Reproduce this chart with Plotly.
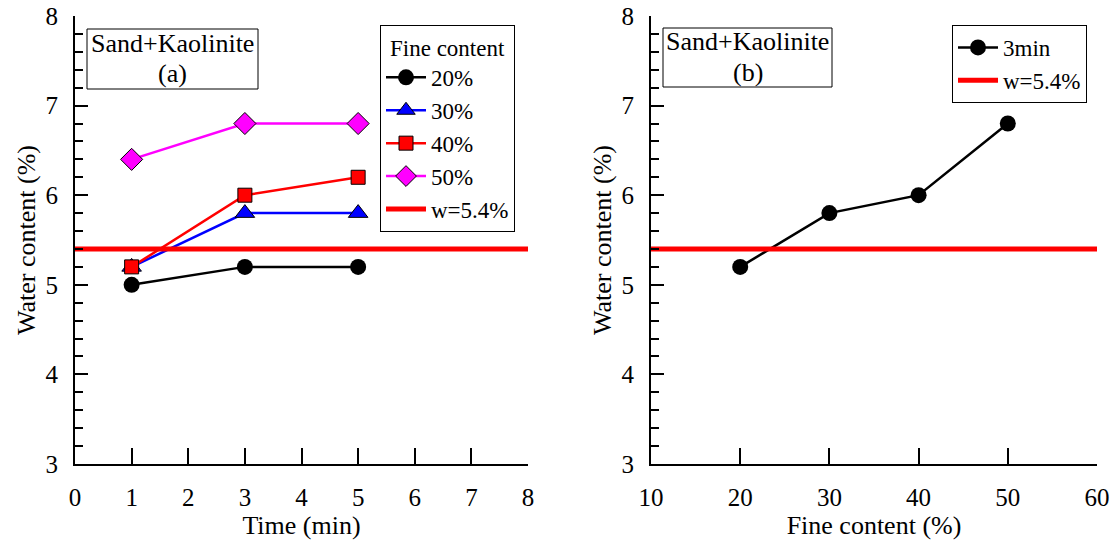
import plotly.graph_objects as go

# ---- data ----
time_min = [1, 3, 5]
fc20 = [5.0, 5.2, 5.2]
fc30 = [5.2, 5.8, 5.8]
fc40 = [5.2, 6.0, 6.2]
fc50 = [6.4, 6.8, 6.8]
series_names = ["20%", "30%", "40%", "50%"]

fine_content = [20, 30, 40, 50]
wc_3min = [5.2, 5.8, 6.0, 6.8]

w_limit = 5.4
x_range_a = [0, 8]
x_range_b = [10, 60]
y_range = [3, 8]

FONT = "Liberation Serif"
W, H = 1115, 544

fig = go.Figure()

styles = [
    dict(color="#000000", symbol="circle", size=16, lc="#000000", lw=0),
    dict(color="#0000ff", symbol="triangle-up", size=17, lc="#0000ff", lw=1),
    dict(color="#ff0000", symbol="square", size=14, lc="#ff0000", lw=1),
    dict(color="#ff00ff", symbol="diamond", size=17, lc="#ff00ff", lw=1),
]
for ys, nm, st in zip([fc20, fc30, fc40, fc50], series_names, styles):
    fig.add_trace(go.Scatter(
        x=time_min, y=ys, mode="lines+markers", name=nm,
        line=dict(color=st["lc"], width=2.5),
        marker=dict(symbol=st["symbol"], size=st["size"], color=st["color"],
                    line=dict(color="#000000", width=st["lw"])),
        xaxis="x", yaxis="y", legend="legend", legendgroup=nm))

fig.add_trace(go.Scatter(x=x_range_a, y=[w_limit, w_limit], mode="lines",
                         line=dict(color="#ff0000", width=5), name="w=5.4%",
                         xaxis="x", yaxis="y", legend="legend", legendgroup="w"))

fig.add_trace(go.Scatter(x=fine_content, y=wc_3min, mode="lines+markers", name="3min",
                         line=dict(color="#000000", width=2.5),
                         marker=dict(symbol="circle", size=16, color="#000000"),
                         xaxis="x2", yaxis="y2", legend="legend2", legendgroup="m3"))
fig.add_trace(go.Scatter(x=x_range_b, y=[w_limit, w_limit], mode="lines",
                         line=dict(color="#ff0000", width=5), name="w=5.4%",
                         xaxis="x2", yaxis="y2", legend="legend2", legendgroup="w2"))

dom_a = [75 / W, 528 / W]
dom_b = [651 / W, 1097 / W]
dom_y = [1 - 464 / H, 1 - 16 / H]

tickfont = dict(family=FONT, size=25, color="black")
titlefont = dict(family=FONT, size=26, color="black")

def xax(domain, rng, dtick, title, anchor):
    return dict(domain=domain, range=rng, dtick=dtick, tick0=rng[0], anchor=anchor,
                ticks="inside", ticklen=16, tickwidth=1.5, tickcolor="black",
                showline=True, linecolor="black", linewidth=2, showgrid=False,
                zeroline=False, tickfont=tickfont, ticklabelstandoff=10, automargin=False,
                title=dict(text=title, font=titlefont, standoff=3))

def yax(anchor, title):
    return dict(domain=dom_y, range=y_range, dtick=1, anchor=anchor,
                ticks="inside", ticklen=13, tickwidth=1.5, tickcolor="black",
                minor=dict(dtick=0.2, ticks="inside", ticklen=8, tickwidth=1.5,
                           tickcolor="black", showgrid=False),
                showline=True, linecolor="black", linewidth=2, showgrid=False,
                zeroline=False, tickfont=tickfont, ticklabelstandoff=10, automargin=False,
                title=dict(text=title, font=titlefont, standoff=2))

def top_ax(over, anchor, rng, dtick):
    return dict(overlaying=over, side="top", anchor=anchor, range=rng, tick0=rng[0],
                dtick=dtick, ticks="inside", ticklen=16, tickwidth=1.5, tickcolor="black",
                showline=True, linecolor="black", linewidth=2, showgrid=False,
                zeroline=False, showticklabels=False, automargin=False)

def right_ax(over, anchor):
    return dict(overlaying=over, side="right", anchor=anchor, range=y_range, tick0=3,
                dtick=0.25, ticks="inside", ticklen=8, tickwidth=1.5, tickcolor="black",
                showline=True, linecolor="black", linewidth=2, showgrid=False,
                zeroline=False, showticklabels=False, automargin=False)

legend_common = dict(bgcolor="white", bordercolor="black", borderwidth=1,
                     font=dict(family=FONT, size=23, color="black"),
                     xanchor="left", yanchor="top", traceorder="grouped",
                     tracegroupgap=0, itemwidth=40)

fig.update_layout(
    width=W, height=H, margin=dict(l=0, r=0, t=0, b=0, autoexpand=False),
    paper_bgcolor="white", plot_bgcolor="white",
    font=dict(family=FONT, color="black"),
    xaxis=xax(dom_a, x_range_a, 1, "Time (min)", "y"),
    yaxis=yax("x", "Water content (%)"),
    xaxis2=xax(dom_b, x_range_b, 10, "Fine content (%)", "y2"),
    yaxis2=yax("x2", "Water content (%)"),
    xaxis3=top_ax("x", "y", x_range_a, 1),
    yaxis3=right_ax("y", "x"),
    xaxis4=top_ax("x2", "y2", x_range_b, 6.25),
    yaxis4=right_ax("y2", "x2"),
    legend=dict(x=380 / W, y=1 - 25 / H,
                title=dict(text="Fine content", side="top center",
                           font=dict(family=FONT, size=23, color="black")),
                **legend_common),
    legend2=dict(x=952 / W, y=1 - 25 / H, **legend_common),
    showlegend=True,
)

# label boxes
for x0, x1, y0, y1, tag in [(87, 258, 29, 89, "(a)"), (663, 832, 28, 87, "(b)")]:
    fig.add_shape(type="rect", xref="paper", yref="paper",
                  x0=x0 / W, x1=x1 / W, y0=1 - y1 / H, y1=1 - y0 / H,
                  line=dict(color="black", width=1), fillcolor="white", layer="above")
    xc = (x0 + x1) / 2 / W
    fig.add_annotation(text="Sand+Kaolinite", xref="paper", yref="paper", x=xc,
                       y=1 - (y0 + 14) / H, xanchor="center", yanchor="middle",
                       showarrow=False, font=dict(family=FONT, size=26, color="black"))
    fig.add_annotation(text=tag, xref="paper", yref="paper", x=xc,
                       y=1 - (y0 + 45) / H, xanchor="center", yanchor="middle",
                       showarrow=False, font=dict(family=FONT, size=26, color="black"))

fig.write_html("out.html")
